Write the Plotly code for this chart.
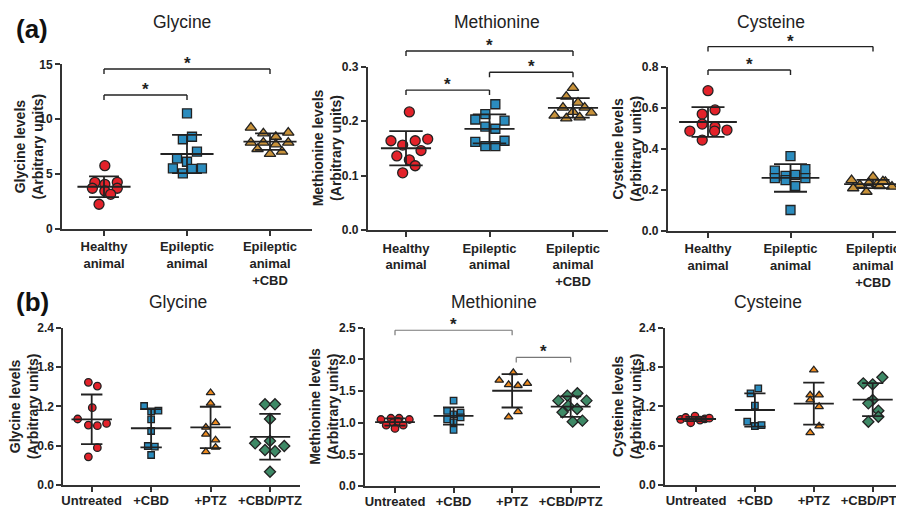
import numpy as np
import plotly.graph_objects as go

# page body adds an 8px offset; the figure is sized to the remaining window
OX, OY = 8, 8
W, H = 896, 500

# ---------------- categories ----------------
a_labels = ["Healthy<br>animal", "Epileptic<br>animal", "Epileptic<br>animal<br>+CBD"]
b_labels = ["Untreated", "+CBD", "+PTZ", "+CBD/PTZ"]

# ---------------- (a) Glycine ----------------
gly_a_vals = [
    [5.75, 4.23, 4.05, 4.23, 3.69, 3.44, 3.69, 3.14, 2.23],
    [10.53, 8.16, 8.39, 7.03, 6.42, 6.11, 5.51, 5.05, 5.45, 5.51],
    [9.22, 8.70, 8.39, 8.76, 7.85, 7.85, 7.70, 7.85, 7.27, 6.82, 7.03],
]
gly_a_dx = [
    [0.01, -0.11, 0.01, 0.16, -0.14, 0.01, 0.16, 0.08, -0.06],
    [0.0, -0.05, 0.06, 0.12, -0.12, 0.0, -0.17, -0.05, 0.06, 0.18],
    [-0.23, -0.08, 0.07, 0.22, -0.23, -0.08, 0.07, 0.22, -0.15, 0.0, 0.145],
]
gly_a_sig = [(0, 1, 12.2), (0, 2, 14.57)]

# ---------------- (a) Methionine ----------------
met_a_vals = [
    [0.217, 0.164, 0.156, 0.164, 0.167, 0.146, 0.136, 0.129, 0.118, 0.105],
    [0.231, 0.213, 0.203, 0.201, 0.190, 0.186, 0.162, 0.164, 0.154, 0.154],
    [0.261, 0.245, 0.234, 0.225, 0.217, 0.225, 0.210, 0.205, 0.207, 0.2155],
]
met_a_dx = [
    [0.04, -0.18, -0.04, 0.11, 0.26, 0.18, -0.11, 0.04, 0.11, -0.04],
    [0.07, -0.05, -0.17, 0.18, -0.05, 0.07, -0.17, 0.18, -0.05, 0.07],
    [0.0, -0.08, 0.06, -0.12, 0.0, 0.14, -0.22, -0.08, 0.08, 0.22],
]
met_a_sig = [(0, 1, 0.257), (1, 2, 0.2897), (0, 2, 0.3288)]

# ---------------- (a) Cysteine ----------------
cys_a_vals = [
    [0.683, 0.589, 0.569, 0.520, 0.507, 0.486, 0.486, 0.491, 0.442],
    [0.364, 0.293, 0.300, 0.256, 0.267, 0.272, 0.256, 0.247, 0.218, 0.101],
    [0.263, 0.247, 0.239, 0.232, 0.228, 0.223, 0.218, 0.215, 0.207, 0.190, 0.241],
]
cys_a_dx = [
    [0.0, 0.085, -0.07, -0.07, 0.085, -0.22, 0.08, 0.23, -0.07],
    [0.0, -0.19, 0.18, -0.19, -0.06, 0.057, 0.18, -0.06, 0.057, 0.0],
    [0.0, -0.26, 0.15, -0.05, 0.05, -0.16, 0.08, 0.23, -0.24, -0.08, 0.12],
]
cys_a_sig = [(0, 1, 0.784), (0, 2, 0.898)]

# ---------------- (b) Glycine ----------------
gly_b_vals = [
    [1.567, 1.51, 1.18, 1.007, 0.915, 0.905, 0.94, 0.57, 0.43],
    [1.205, 1.124, 1.134, 1.0, 0.824, 0.595, 0.585, 0.458],
    [1.408, 1.246, 0.951, 0.88, 0.773, 0.687, 0.575, 0.508],
    [1.231, 1.231, 1.007, 0.636, 0.671, 0.595, 0.534, 0.514, 0.203],
]
gly_b_dx = [
    [-0.056, 0.095, 0.01, -0.236, -0.056, 0.095, 0.25, 0.095, -0.056],
    [-0.118, 0.0, 0.123, 0.0, 0.0, -0.056, 0.062, 0.0],
    [0.0, 0.0, 0.084, -0.079, -0.079, 0.084, 0.084, -0.079],
    [-0.084, 0.084, 0.0, -0.25, 0.0, 0.24, -0.084, 0.084, 0.0],
]
gly_b_sig = []

# ---------------- (b) Methionine ----------------
met_b_vals = [
    [1.05, 1.07, 1.07, 1.05, 1.00, 1.02, 0.96, 0.91, 0.96],
    [1.348, 1.185, 1.158, 1.132, 1.085, 1.053, 1.006, 0.885],
    [1.79, 1.67, 1.60, 1.585, 1.62, 1.174, 1.09],
    [1.427, 1.464, 1.348, 1.348, 1.269, 1.216, 1.164, 1.016, 1.032],
]
met_b_dx = [
    [-0.24, -0.07, 0.07, 0.245, -0.03, 0.05, -0.15, 0.0, 0.14],
    [0.0, -0.11, 0.12, 0.0, 0.12, -0.11, 0.0, 0.0],
    [0.02, -0.22, -0.06, 0.1, 0.26, 0.1, -0.06],
    [-0.057, 0.114, -0.21, 0.27, -0.04, 0.11, -0.14, 0.034, 0.2],
]
met_b_sig = [(0, 2, 2.46), (2.07, 3, 2.03)]

# ---------------- (b) Cysteine ----------------
cys_b_vals = [
    [1.00, 1.03, 0.95, 1.05, 0.99, 1.01, 1.02],
    [1.475, 1.399, 1.21, 0.966, 0.90, 0.915],
    [1.755, 1.373, 1.373, 1.297, 1.195, 0.90, 0.798],
    [1.551, 1.536, 1.643, 1.297, 1.246, 1.134, 1.042, 0.966],
]
cys_b_dx = [
    [-0.26, -0.175, -0.09, -0.017, 0.068, 0.15, 0.226],
    [0.057, -0.074, 0.0, -0.13, 0.0, 0.113],
    [0.0, -0.062, 0.09, -0.062, 0.09, 0.09, -0.062],
    [-0.16, 0.0, 0.164, 0.0, -0.074, 0.096, 0.096, -0.074],
]
cys_b_sig = []

# ---------------- styles ----------------
FONT = "Liberation Sans, Arial, Helvetica, sans-serif"
a_symbols = ["circle", "square", "triangle-up"]
a_colors = ["#E3222A", "#2B8CBE", "#C8923A"]
a_sizes = [10, 9, 10]
b_symbols = ["circle", "square", "triangle-up", "diamond"]
b_colors = ["#E3222A", "#2B8CBE", "#EE8A1E", "#3E8966"]
b_sizes = [7.5, 6.5, 7.5, 8.5]


def px(x):
    return (x - OX) / W


def py(y):
    return 1 - (y - OY) / H


panels = [
    dict(vals=gly_a_vals, dx=gly_a_dx, labels=a_labels, sig=gly_a_sig,
         title="Glycine", ytitle="Glycine levels<br>(Arbitrary units)",
         yticks=[0, 5, 10, 15], fmt="d", ymax=15, lstand=0,
         box=(62, 312, 64.3, 228.7), cats=(104, 270), ytx=28, tx=182, ty=22,
         sym=a_symbols, col=a_colors, size=a_sizes, mw=0.32, cw=0.18, bcol="#222", bw=1.4),
    dict(vals=met_a_vals, dx=met_a_dx, labels=a_labels, sig=met_a_sig,
         title="Methionine", ytitle="Methionine levels<br>(Arbitrary units)",
         yticks=[0, 0.1, 0.2, 0.3], fmt=".1f", ymax=0.3, lstand=0,
         box=(367.7, 608, 66.7, 230), cats=(406, 573), ytx=327, tx=497, ty=22,
         sym=a_symbols, col=a_colors, size=a_sizes, mw=0.3, cw=0.2, bcol="#222", bw=1.4),
    dict(vals=cys_a_vals, dx=cys_a_dx, labels=a_labels, sig=cys_a_sig,
         title="Cysteine", ytitle="Cysteine levels<br>(Arbitrary units)",
         yticks=[0, 0.2, 0.4, 0.6, 0.8], fmt=".1f", ymax=0.8, lstand=0,
         box=(667.7, 904, 66.7, 230.7), cats=(708, 873), ytx=627, tx=771, ty=22,
         sym=a_symbols, col=a_colors, size=a_sizes, mw=0.35, cw=0.2, bcol="#222", bw=1.4),
    dict(vals=gly_b_vals, dx=gly_b_dx, labels=b_labels, sig=gly_b_sig,
         title="Glycine", ytitle="Glycine levels<br>(Arbitrary units)",
         yticks=[0, 0.6, 1.2, 1.8, 2.4], fmt=".1f", ymax=2.4, lstand=-3,
         box=(63.3, 300, 327.7, 485), cats=(91.7, 270), ytx=24, tx=178, ty=302,
         sym=b_symbols, col=b_colors, size=b_sizes, mw=0.34, cw=0.18, bcol="#777", bw=1.2),
    dict(vals=met_b_vals, dx=met_b_dx, labels=b_labels, sig=met_b_sig,
         title="Methionine", ytitle="Methionine levels<br>(Arbitrary units)",
         yticks=[0, 0.5, 1.0, 1.5, 2.0, 2.5], fmt=".1f", ymax=2.5, lstand=-3,
         box=(365, 600, 327.7, 486), cats=(395, 570.7), ytx=324, tx=494, ty=302,
         sym=b_symbols, col=b_colors, size=b_sizes, mw=0.34, cw=0.18, bcol="#777", bw=1.2),
    dict(vals=cys_b_vals, dx=cys_b_dx, labels=b_labels, sig=cys_b_sig,
         title="Cysteine", ytitle="Cysteine levels<br>(Arbitrary units)",
         yticks=[0, 0.6, 1.2, 1.8, 2.4], fmt=".1f", ymax=2.4, lstand=-3,
         box=(665, 904, 327.7, 485), cats=(696, 872.7), ytx=627, tx=768, ty=302,
         sym=b_symbols, col=b_colors, size=b_sizes, mw=0.34, cw=0.18, bcol="#777", bw=1.2),
]

fig = go.Figure()
layout = dict(width=W, height=H, margin=dict(l=0, r=0, t=0, b=0, pad=0, autoexpand=False),
              paper_bgcolor="white", plot_bgcolor="white", showlegend=False,
              font=dict(family=FONT, color="#222"))
shapes, annotations = [], []

for k, p in enumerate(panels):
    n = k + 1
    sfx = "" if n == 1 else str(n)
    xa, ya = "x" + sfx, "y" + sfx
    xl, xr, yt, yb = p["box"]
    ncat = len(p["vals"])
    c0, cN = p["cats"]
    sp = (cN - c0) / (ncat - 1)
    xrange = [(xl - c0) / sp, (xr - c0) / sp]
    plot_h = yb - yt

    for i, (v, d) in enumerate(zip(p["vals"], p["dx"])):
        fig.add_trace(go.Scatter(
            x=[i + dd for dd in d], y=v, mode="markers", xaxis=xa, yaxis=ya,
            marker=dict(symbol=p["sym"][i], color=p["col"][i], size=p["size"][i],
                        line=dict(color="#222", width=1.3)),
            cliponaxis=False, hoverinfo="skip"))
    for i, v in enumerate(p["vals"]):
        m = float(np.mean(v))
        s = float(np.std(v, ddof=1))
        mw, cw = p["mw"], p["cw"]
        fig.add_trace(go.Scatter(
            x=[i - mw, i + mw, None, i, i, None, i - cw, i + cw, None, i - cw, i + cw],
            y=[m, m, None, m - s, m + s, None, m + s, m + s, None, m - s, m - s],
            mode="lines", xaxis=xa, yaxis=ya, line=dict(color="#222", width=1.8),
            hoverinfo="skip"))

    layout["xaxis" + sfx] = dict(
        domain=[max(px(xl), 0), min(px(xr), 1.0)], range=xrange, anchor=ya,
        tickvals=list(range(ncat)), ticktext=p["labels"], automargin=False,
        ticklabeloverflow="allow", ticklabelstandoff=p["lstand"],
        showline=True, linecolor="#333", linewidth=1.8, ticks="outside", ticklen=5,
        tickwidth=1.5, tickcolor="#333", showgrid=False, zeroline=False,
        tickfont=dict(size=13, family=FONT, color="#222", weight="bold"))
    layout["yaxis" + sfx] = dict(
        domain=[py(yb), py(yt)], range=[0, p["ymax"]], anchor=xa,
        tickvals=p["yticks"], tickformat=p["fmt"], automargin=False,
        showline=True, linecolor="#333", linewidth=1.8, ticks="outside", ticklen=5,
        tickwidth=1.5, tickcolor="#333", showgrid=False, zeroline=False,
        tickfont=dict(size=12, family=FONT, color="#222", weight="bold"))

    annotations.append(dict(text=p["title"], x=px(p["tx"]), y=py(p["ty"]),
                            xref="paper", yref="paper", showarrow=False,
                            xanchor="center", yanchor="middle",
                            font=dict(size=17.5, family=FONT, color="#222")))
    annotations.append(dict(text=p["ytitle"], x=px(p["ytx"]), y=py((yt + yb) / 2),
                            xref="paper", yref="paper", showarrow=False, textangle=-90,
                            xanchor="center", yanchor="middle",
                            font=dict(size=14, family=FONT, color="#222", weight="bold")))
    tick_d = 5.0 / plot_h
    for (g1, g2, yv) in p["sig"]:
        yd = yv / p["ymax"]
        for (x0, y0, x1, y1) in [(g1, yd - tick_d, g1, yd), (g1, yd, g2, yd), (g2, yd, g2, yd - tick_d)]:
            shapes.append(dict(type="line", xref=xa, yref=ya + " domain",
                               x0=x0, y0=y0, x1=x1, y1=y1,
                               line=dict(color=p["bcol"], width=p["bw"])))
        annotations.append(dict(text="*", x=(g1 + g2) / 2, y=yd, xref=xa, yref=ya + " domain",
                                showarrow=False, xanchor="center", yanchor="bottom", yshift=-6,
                                font=dict(size=17, family=FONT, color="#222", weight="bold")))

annotations.append(dict(text="(a)", x=px(14), y=py(29), xref="paper", yref="paper",
                        showarrow=False, xanchor="left", yanchor="middle",
                        font=dict(size=26, family=FONT, color="#111", weight="bold")))
annotations.append(dict(text="(b)", x=px(14), y=py(302), xref="paper", yref="paper",
                        showarrow=False, xanchor="left", yanchor="middle",
                        font=dict(size=26, family=FONT, color="#111", weight="bold")))

layout["shapes"] = shapes
layout["annotations"] = annotations
fig.update_layout(**layout)
fig.write_html("out.html")
